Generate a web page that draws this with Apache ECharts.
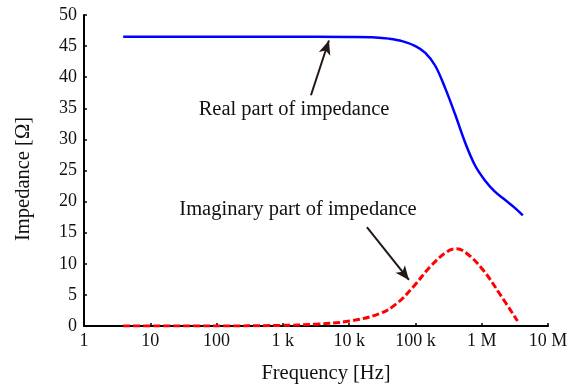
<!DOCTYPE html>
<html>
<head>
<meta charset="utf-8">
<script src="https://cdn.jsdelivr.net/npm/echarts@6/dist/echarts.min.js"></script>
<style>html,body{margin:0;padding:0;background:#fff}#c{width:576px;height:388px}</style>
</head>
<body>
<div id="c"></div>
<script>
// Real part of impedance
const realFreq = [3.9, 10, 100, 1000, 10000, 25100, 39800, 63100, 100000, 141000, 200000, 282000, 398000, 562000, 794000, 1120000, 1580000, 2240000, 3160000, 4170000];
const realVals = [46.5, 46.5, 46.5, 46.5, 46.45, 46.4, 46.2, 45.8, 45.0, 43.9, 41.8, 38.2, 34.0, 29.5, 25.8, 23.4, 21.6, 20.3, 19.0, 17.8];
// Imaginary part of impedance
const imagFreq = [3.9, 10, 100, 910, 3200, 10200, 29000, 52000, 93000, 166000, 295000, 417000, 590000, 1050000, 1860000, 3470000];
const imagVals = [0, 0, 0, 0.1, 0.3, 0.8, 2.0, 3.6, 6.3, 9.5, 11.9, 12.4, 11.7, 9.0, 5.2, 0.8];
// Tick labels
const xTickVals = [1, 10, 100, 1000, 10000, 100000, 1000000, 10000000];
const xTickLabels = ['1', '10', '100', '1 k', '10 k', '100 k', '1 M', '10 M'];
// Annotations
const realArrow = [[2655, 37.1], [4955, 45.9]];
const imagArrow = [[18540, 15.9], [79800, 7.4]];

const font = '"Liberation Serif", "Times New Roman", serif';
const chart = echarts.init(document.getElementById('c'), null, {renderer: 'canvas'});
const pair = (xs, ys) => xs.map((x, i) => [x, ys[i]]);
const arrowLine = (pts) => ({
  silent: true, animation: false,
  lineStyle: {color: '#231815', width: 2, type: 'solid'},
  label: {show: false},
  symbolSize: [9, 14],
  data: [[{coord: pts[0], symbol: 'none'}, {coord: pts[1], symbol: 'arrow'}]]
});
chart.setOption({
  animation: false,
  backgroundColor: '#fff',
  grid: {left: 84, right: 28, top: 15, bottom: 62, containLabel: false},
  xAxis: {
    type: 'log', logBase: 10, min: 1, max: 10000000,
    axisLine: {show: true, lineStyle: {color: '#000', width: 2}},
    axisTick: {show: true, inside: true, length: 3, lineStyle: {color: '#000', width: 1.5}},
    minorTick: {show: false},
    splitLine: {show: false},
    axisLabel: {
      color: '#111', fontFamily: font, fontSize: 18, margin: 6,
      formatter: v => { const i = xTickVals.findIndex(t => Math.abs(Math.log10(t) - Math.log10(v)) < 1e-6); return i >= 0 ? xTickLabels[i] : ''; }
    }
  },
  yAxis: {
    type: 'value', min: 0, max: 50, interval: 5,
    axisLine: {show: true, lineStyle: {color: '#000', width: 2}},
    axisTick: {show: true, inside: true, length: 3, lineStyle: {color: '#000', width: 1.5}},
    splitLine: {show: false},
    axisLabel: {color: '#111', fontFamily: font, fontSize: 18, margin: 7}
  },
  series: [
    {
      type: 'line', data: pair(realFreq, realVals), smooth: 0.35, showSymbol: false,
      lineStyle: {color: '#0000ff', width: 2.5}, z: 3,
      markLine: arrowLine(realArrow)
    },
    {
      type: 'line', data: pair(imagFreq, imagVals), smooth: 0.4, showSymbol: false,
      lineStyle: {color: '#ff0000', width: 3, type: [7, 3]}, z: 3,
      markLine: arrowLine(imagArrow)
    }
  ],
  graphic: [
    {type: 'text', x: 294, y: 110, style: {text: 'Real part of impedance', font: '20.5px ' + font, fill: '#111', textAlign: 'center', textVerticalAlign: 'middle'}},
    {type: 'text', x: 298, y: 210, style: {text: 'Imaginary part of impedance', font: '20.5px ' + font, fill: '#111', textAlign: 'center', textVerticalAlign: 'middle'}},
    {type: 'text', x: 326, y: 374, style: {text: 'Frequency [Hz]', font: '20.5px ' + font, fill: '#111', textAlign: 'center', textVerticalAlign: 'middle'}},
    {type: 'text', x: 24, y: 179, rotation: Math.PI / 2, style: {text: 'Impedance [Ω]', font: '20.5px ' + font, fill: '#111', textAlign: 'center', textVerticalAlign: 'middle'}}
  ]
});
</script>
</body>
</html>
